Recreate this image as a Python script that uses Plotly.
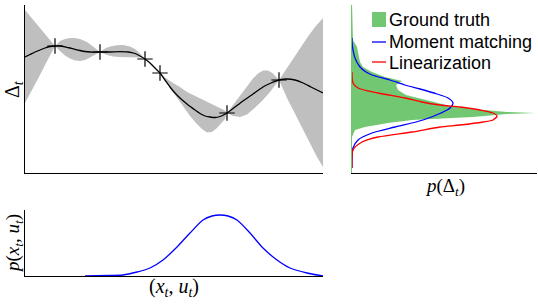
import plotly.graph_objects as go

W, H = 538, 304

# ---------------- top-left: GP posterior ----------------
mean_x = [0, 5, 10, 15, 20, 25, 30, 35, 40, 45, 50, 55, 60, 65, 75, 85, 95, 103, 110, 115,
          120, 125, 130, 135, 140, 145, 150, 155, 162, 170, 175, 180, 185, 190, 195, 202,
          210, 218, 228, 238, 246, 254, 262, 270, 278, 286, 293, 298]
mean_y = [116, 118.5, 121, 123, 125, 126.5, 127, 127, 126.2, 125, 123.7, 122.5, 121.5, 121,
          121, 121, 121.3, 121, 119.5, 117, 114, 110, 105, 100, 93, 86, 80, 75, 69, 63,
          59.5, 57, 56, 55.5, 56.5, 60, 66, 72, 79, 86, 90, 93, 94, 93, 90, 86, 82.5, 80]

upper_x = [0, 5, 10, 15, 20, 25, 30, 35, 40, 45, 50, 55, 62, 68, 75, 80, 85, 92, 98, 105,
           110, 115, 120, 127, 135, 142, 148, 155, 162, 170, 178, 187, 195, 200, 202, 208,
           215, 222, 228, 233, 238, 243, 248, 254, 260, 267, 275, 283, 290, 298]
upper_y = [163, 157, 151, 145, 139, 133, 127, 132, 134, 135, 135, 134, 131, 126.5, 121,
           124.5, 126.5, 127.8, 128, 126.5, 124, 119.5, 114, 107, 100, 94, 90, 86, 81, 77,
           73, 69, 65, 62.5, 60, 68, 77, 86, 94.5, 99.5, 102.5, 102.5, 99.5, 93, 102, 113,
           125, 136.5, 146, 155]

lower_x = [0, 5, 10, 15, 20, 25, 30, 35, 40, 45, 50, 55, 60, 65, 70, 75, 82, 88, 95, 103,
           110, 115, 120, 127, 135, 143, 150, 158, 165, 171, 177, 182, 187, 192, 197, 200,
           202, 208, 215, 222, 229, 237, 245, 254, 262, 270, 278, 286, 292, 298]
lower_y = [70, 79, 88.5, 98, 108, 117.5, 127, 122, 117.5, 114.5, 112.5, 112, 113, 115.5,
           118, 121, 118, 116.5, 116, 116, 116, 115.5, 114, 107, 100, 88, 78, 67, 57, 50,
           44, 40.5, 41, 45, 51, 54, 60, 57, 56, 58.5, 64.5, 72, 81, 93, 75, 59, 43, 27,
           16, 6]

train_x = [30, 75, 120, 135, 202, 254]
train_y = [127, 121, 114, 100, 60, 93]

# ---------------- top-right: predictive densities ----------------
gt_density = [0, 1, 5, 6, 8, 11, 20, 33, 46, 50, 44, 46, 54, 75, 98, 121, 155, 183, 155,
              121, 88, 60, 36, 13, 3, 0, 0]
gt_delta = [170, 133, 126, 121, 111, 106, 101, 96, 93, 92, 88, 83, 78, 73, 67, 64, 61, 60,
            59, 56, 54, 53, 50, 46, 43, 36, 3]

mm_density = [0, 0, 1, 3, 8, 14, 20, 38, 53, 68, 85, 96, 101, 98, 89, 71, 43, 20, 6, 1, 0, 0]
mm_delta = [135, 131, 123, 115, 106, 101, 98, 93, 88, 84, 79, 75, 70, 65, 60, 53, 46, 40,
            33, 25, 13, 5]

lin_density = [0, 1, 6, 26, 53, 70, 88, 108, 128, 141, 145, 141, 131, 108, 88, 60, 26, 10,
               1, 0, 0]
lin_delta = [101, 90, 85, 80, 75, 71, 68, 66, 63, 60, 57, 53, 51, 48, 46, 41, 36, 31, 23,
             10, 5]

# ---------------- bottom: input distribution ----------------
in_x = [60, 85, 98, 112, 125, 138, 152, 165, 178, 187, 195, 203, 212, 225, 238, 252, 265,
        282, 298]
in_p = [0, 0.5, 1, 4, 8, 16, 29, 43, 56, 60, 61, 60, 56, 43, 28, 16, 8, 3, 0]

legend_labels = ["Ground truth", "Moment matching", "Linearization"]

GRAY = "#bfbfbf"
GREEN = "rgb(114,200,114)"
BLUE = "#0000ff"
RED = "#ff0000"

fig = go.Figure()

fig.add_trace(go.Scatter(x=upper_x, y=upper_y, mode="lines", line=dict(width=0, color=GRAY),
                         hoverinfo="skip", xaxis="x", yaxis="y"))
fig.add_trace(go.Scatter(x=lower_x, y=lower_y, mode="lines", line=dict(width=0, color=GRAY),
                         fill="tonexty", fillcolor=GRAY, xaxis="x", yaxis="y"))
fig.add_trace(go.Scatter(x=mean_x, y=mean_y, mode="lines", line=dict(width=1.3, color="black",
                         shape="spline", smoothing=0.6), xaxis="x", yaxis="y"))
fig.add_trace(go.Scatter(x=train_x, y=train_y, mode="markers",
                         marker=dict(symbol="cross-thin", size=11,
                                     line=dict(width=1.2, color="black")),
                         xaxis="x", yaxis="y"))

fig.add_trace(go.Scatter(x=gt_density, y=gt_delta, mode="lines", line=dict(width=0, color=GREEN),
                         fill="tozerox", fillcolor=GREEN, xaxis="x2", yaxis="y2"))
fig.add_trace(go.Scatter(x=mm_density, y=mm_delta, mode="lines",
                         line=dict(width=1.3, color=BLUE, shape="spline", smoothing=0.8),
                         xaxis="x2", yaxis="y2"))
fig.add_trace(go.Scatter(x=lin_density, y=lin_delta, mode="lines",
                         line=dict(width=1.3, color=RED, shape="spline", smoothing=0.8),
                         xaxis="x2", yaxis="y2"))

fig.add_trace(go.Scatter(x=in_x, y=in_p, mode="lines",
                         line=dict(width=1.3, color=BLUE, shape="spline", smoothing=0.8),
                         xaxis="x3", yaxis="y3"))


def ax(domain, rng, anchor, color="black"):
    return dict(domain=domain, range=rng, anchor=anchor, showline=True, linecolor=color,
                linewidth=1.2, showticklabels=False, ticks="", showgrid=False,
                zeroline=False, fixedrange=True)


def px_x(p):
    return p / W


def px_y(p):
    return 1 - p / H


fig.update_layout(
    width=W, height=H, margin=dict(l=0, r=0, t=0, b=0),
    paper_bgcolor="white", plot_bgcolor="white", showlegend=False,
    xaxis=ax([px_x(25), px_x(323)], [0, 298], "y"),
    yaxis=ax([px_y(173), px_y(5)], [0, 168], "x"),
    xaxis2=ax([px_x(352), px_x(537)], [0, 185], "y2"),
    yaxis2=ax([px_y(173), px_y(5)], [0, 168], "x2", color=GREEN),
    xaxis3=ax([px_x(25), px_x(323)], [0, 298], "y3"),
    yaxis3=ax([px_y(276), px_y(210)], [0, 66], "x3"),
)

serif = "Liberation Serif"
sans = "Liberation Sans"
ann = [
    dict(x=px_x(13), y=px_y(89), text="Δ<sub><i>t</i></sub>", textangle=-90,
         font=dict(family=serif, size=20, color="black")),
    dict(x=px_x(445), y=px_y(187), text="<i>p</i>(Δ<sub><i>t</i></sub>)",
         font=dict(family=serif, size=19, color="black")),
    dict(x=px_x(174), y=px_y(287), text="(<i>x</i><sub><i>t</i></sub>, <i>u</i><sub><i>t</i></sub>)",
         font=dict(family=serif, size=20, color="black")),
    dict(x=px_x(14), y=px_y(244), text="<i>p</i>(<i>x</i><sub><i>t</i></sub>, <i>u</i><sub><i>t</i></sub>)",
         textangle=-90, font=dict(family=serif, size=19, color="black")),
]
for lbl, yc in zip(legend_labels, [19.5, 41.5, 63.5]):
    ann.append(dict(x=px_x(387), y=px_y(yc), text=lbl, xanchor="left",
                    font=dict(family=sans, size=18, color="black")))
for a in ann:
    a.update(xref="paper", yref="paper", showarrow=False)
    a.setdefault("xanchor", "center")
    a.setdefault("yanchor", "middle")
fig.update_layout(annotations=ann)

fig.update_layout(shapes=[
    dict(type="rect", xref="paper", yref="paper", x0=px_x(372), x1=px_x(386),
         y0=px_y(27), y1=px_y(12), fillcolor=GREEN, line=dict(width=0)),
    dict(type="line", xref="paper", yref="paper", x0=px_x(372), x1=px_x(386),
         y0=px_y(42), y1=px_y(42), line=dict(color=BLUE, width=1.3)),
    dict(type="line", xref="paper", yref="paper", x0=px_x(372), x1=px_x(386),
         y0=px_y(62), y1=px_y(62), line=dict(color=RED, width=1.3)),
])

fig.write_html("out.html", config={"displayModeBar": False},
               post_script="document.body.style.margin='0px';")
